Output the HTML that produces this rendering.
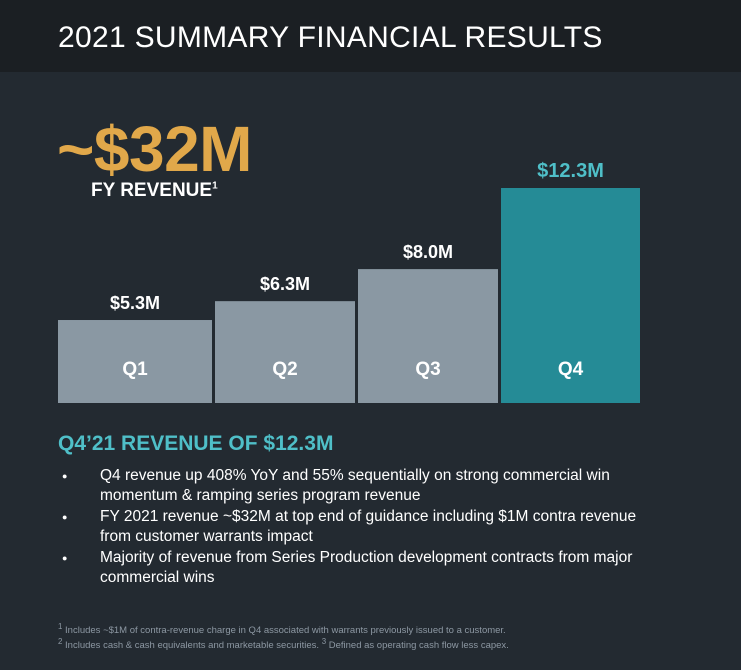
<!DOCTYPE html>
<html><head><meta charset="utf-8"><style>
body{margin:0;width:741px;height:670px;background:#232a31;font-family:"Liberation Sans",sans-serif;position:relative;overflow:hidden}
.abs{position:absolute}
#hdr{left:0;top:0;width:741px;height:72px;background:#1b1f23}
#title{left:58px;top:21px;font-size:30px;color:#fff;letter-spacing:0.3px}
#big{left:57px;top:112px;font-size:64px;font-weight:bold;color:#e1a84a;letter-spacing:-0.5px}
#fy{left:91px;top:180px;font-size:19px;font-weight:bold;color:#fff}
#q4t{left:58px;top:432px;font-size:21px;font-weight:bold;color:#4fbfc8}
ul{position:absolute;left:58px;top:466px;margin:0;padding:0;list-style:none;width:610px}
li{position:relative;padding-left:42px;font-size:15.5px;color:#fff;line-height:20px;margin-bottom:1px}
li:before{content:"●";position:absolute;left:4px;top:0;font-size:9px}
#fn{left:58px;top:621px;font-size:9.5px;color:#8d98a3;line-height:11px}
</style></head><body>
<div class="abs" id="hdr"></div>
<div class="abs" id="title">2021 SUMMARY FINANCIAL RESULTS</div>
<div class="abs" id="big">~$32M</div>
<div class="abs" id="fy">FY REVENUE<sup style="font-size:10px">1</sup></div>
<svg class="abs" style="left:0;top:0" width="741" height="420" id="chart"></svg>
<div class="abs" id="q4t">Q4’21 REVENUE OF $12.3M</div>
<ul>
<li>Q4 revenue up 408% YoY and 55% sequentially on strong commercial win momentum &amp; ramping series program revenue</li>
<li>FY 2021 revenue ~$32M at top end of guidance including $1M contra revenue from customer warrants impact</li>
<li>Majority of revenue from Series Production development contracts from major commercial wins</li>
</ul>
<div class="abs" id="fn"><sup>1</sup> Includes ~$1M of contra-revenue charge in Q4 associated with warrants previously issued to a customer.<br><sup>2</sup> Includes cash &amp; cash equivalents and marketable securities. <sup>3</sup> Defined as operating cash flow less capex.</div>
<script>
const categories=["Q1","Q2","Q3","Q4"];
const values=[5.3,6.3,8.0,12.3];
const valueLabels=["$5.3M","$6.3M","$8.0M","$12.3M"];
const svg=document.getElementById('chart');
const NS="http://www.w3.org/2000/svg";
const base=403, vMin=0.9, scale=18.86;
const lefts=[58,215,358,501], widths=[154,140,140,139];
function y(v){return base-(v-vMin)*scale;}
categories.forEach((c,i)=>{
 const v=values[i], last=i===categories.length-1;
 const r=document.createElementNS(NS,'rect');
 
 
 r.setAttribute('x',lefts[i]);r.setAttribute('y',y(v));
 r.setAttribute('width',widths[i]);r.setAttribute('height',base-y(v));
 r.setAttribute('fill',last?'#258b96':'#8a98a3');
 svg.appendChild(r);
 const t=document.createElementNS(NS,'text');
 
 
 t.setAttribute('x',lefts[i]+widths[i]/2);t.setAttribute('y',y(v)-11);
 t.setAttribute('text-anchor','middle');t.setAttribute('font-size',last?'20':'18');
 t.setAttribute('font-weight','bold');t.setAttribute('fill',last?'#4fbfc8':'#fff');
 t.setAttribute('font-family','Liberation Sans, sans-serif');
 t.textContent=valueLabels[i];svg.appendChild(t);
 const q=document.createElementNS(NS,'text');
 
 
 q.setAttribute('x',lefts[i]+widths[i]/2);q.setAttribute('y',375);
 q.setAttribute('text-anchor','middle');q.setAttribute('font-size','19');
 q.setAttribute('font-weight','bold');q.setAttribute('fill','#fff');
 q.setAttribute('font-family','Liberation Sans, sans-serif');
 q.textContent=c;svg.appendChild(q);
});
</script>
</body></html>
